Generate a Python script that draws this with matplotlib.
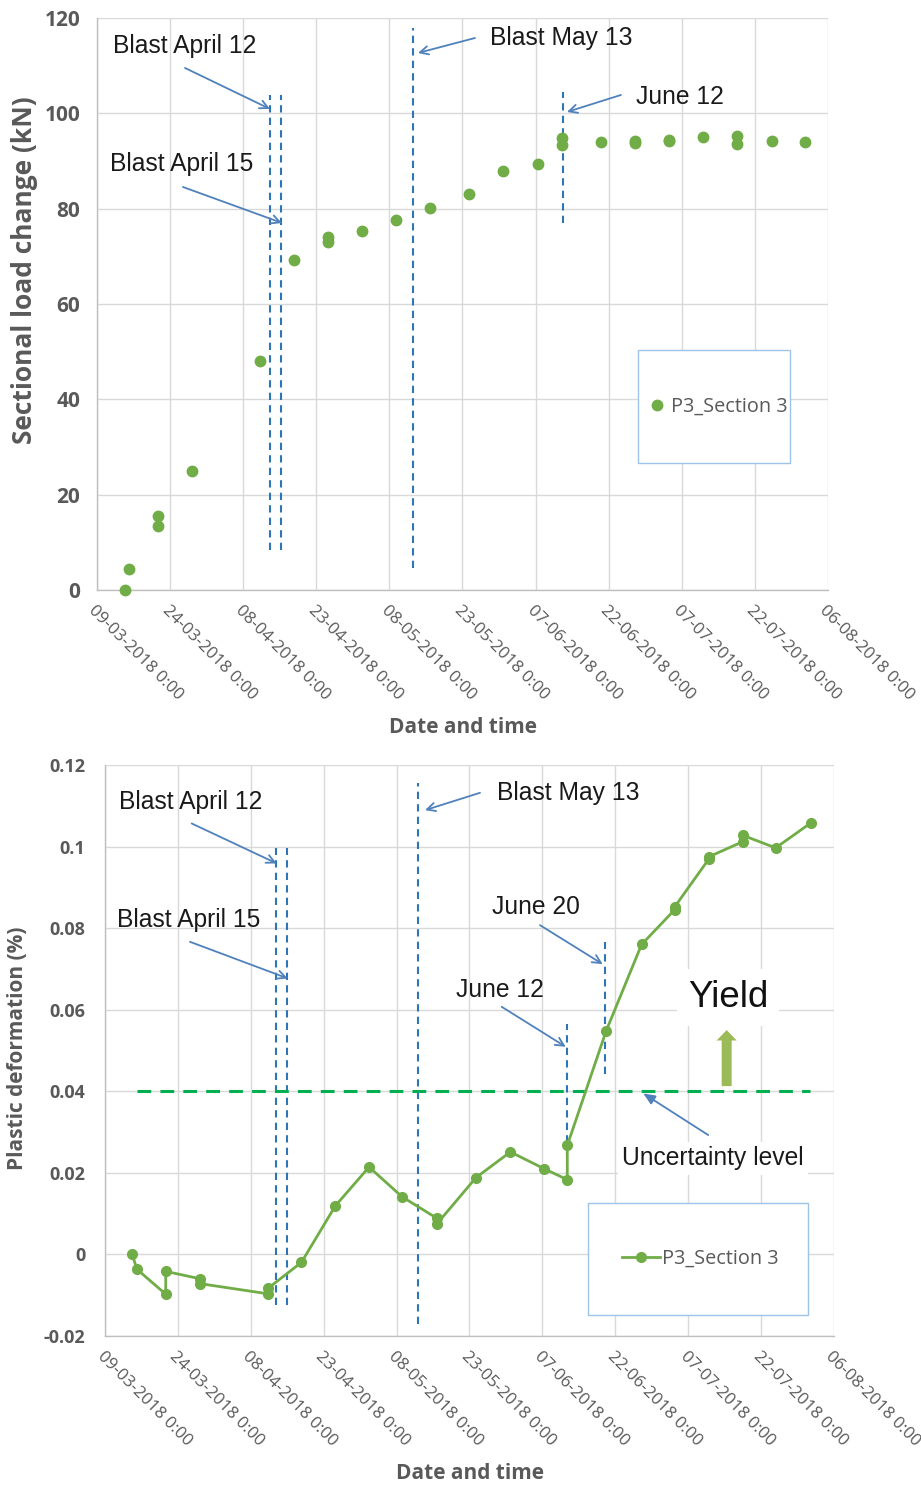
import matplotlib
matplotlib.use("Agg")
import matplotlib.pyplot as plt
from matplotlib.patches import Rectangle
from matplotlib.transforms import ScaledTranslation
import pandas as pd

# ---------------- data ----------------
load_dates = ["2018-03-14 18:00", "2018-03-15 14:00", "2018-03-21 12:00", "2018-03-21 12:00",
              "2018-03-28 14:00", "2018-04-11 12:00", "2018-04-18 10:00", "2018-04-25 12:00",
              "2018-04-25 12:00", "2018-05-02 10:00", "2018-05-09 10:00", "2018-05-16 10:00",
              "2018-05-24 08:00", "2018-05-31 10:00", "2018-06-07 10:00", "2018-06-12 10:00",
              "2018-06-12 10:00", "2018-06-20 10:00", "2018-06-27 10:00", "2018-06-27 10:00",
              "2018-07-04 10:00", "2018-07-04 10:00", "2018-07-11 10:00", "2018-07-18 10:00",
              "2018-07-18 10:00", "2018-07-25 10:00", "2018-08-01 06:00"]
load_values = [0.0, 4.3, 15.5, 13.4, 24.9, 48.1, 69.3, 73.0, 74.0, 75.4, 77.6, 80.2,
               83.1, 87.9, 89.3, 94.8, 93.4, 94.0, 94.2, 93.7, 94.4, 94.1, 95.1, 95.3,
               93.6, 94.2, 94.0]

deform_dates = ["2018-03-14 14:00", "2018-03-15 14:00", "2018-03-21 12:00", "2018-03-21 12:00",
                "2018-03-28 12:00", "2018-03-28 12:00", "2018-04-11 12:00", "2018-04-11 12:00",
                "2018-04-18 10:00", "2018-04-25 10:00", "2018-05-02 08:00", "2018-05-09 03:00",
                "2018-05-16 08:00", "2018-05-16 08:00", "2018-05-24 08:00", "2018-05-31 10:00",
                "2018-06-07 08:00", "2018-06-12 03:00", "2018-06-12 03:00", "2018-06-20 03:00",
                "2018-06-27 10:00", "2018-07-04 05:00", "2018-07-04 05:00", "2018-07-11 05:00",
                "2018-07-11 05:00", "2018-07-18 05:00", "2018-07-18 05:00", "2018-07-25 00:00",
                "2018-08-01 08:00"]
deform_values = [0.0, -0.0037, -0.0098, -0.0042, -0.0060, -0.0072, -0.0097, -0.0084,
                 -0.0020, 0.0119, 0.0214, 0.0141, 0.0088, 0.0075, 0.0188, 0.0251,
                 0.0210, 0.0183, 0.0267, 0.0548, 0.0760, 0.0845, 0.0852, 0.0969,
                 0.0975, 0.1012, 0.1028, 0.0997, 0.1059]

tick_dates = ["2018-03-09", "2018-03-24", "2018-04-08", "2018-04-23", "2018-05-08", "2018-05-23",
              "2018-06-07", "2018-06-22", "2018-07-07", "2018-07-22", "2018-08-06"]
tick_labels = ["09-03-2018 0:00", "24-03-2018 0:00", "08-04-2018 0:00", "23-04-2018 0:00",
               "08-05-2018 0:00", "23-05-2018 0:00", "07-06-2018 0:00", "22-06-2018 0:00",
               "07-07-2018 0:00", "22-07-2018 0:00", "06-08-2018 0:00"]
load_yticks = [0, 20, 40, 60, 80, 100, 120]
load_yticklabels = ["0", "20", "40", "60", "80", "100", "120"]
deform_yticks = [-0.02, 0, 0.02, 0.04, 0.06, 0.08, 0.1, 0.12]
deform_yticklabels = ["-0.02", "0", "0.02", "0.04", "0.06", "0.08", "0.1", "0.12"]

series_label = "P3_Section 3"

top_event_dates = ["2018-04-13 12:00", "2018-04-15 19:00", "2018-05-12 19:00", "2018-06-12 14:00"]
top_event_low = [8.4, 8.4, 4.6, 77.0]
top_event_high = [103.9, 103.9, 118.0, 104.5]

bot_event_dates = ["2018-04-13 05:00", "2018-04-15 12:00", "2018-05-12 12:00",
                   "2018-06-12 02:00", "2018-06-19 19:00"]
bot_event_low = [-0.0125, -0.0125, -0.017, 0.0243, 0.0442]
bot_event_high = [0.0996, 0.0996, 0.1155, 0.0566, 0.0766]

uncertainty_level = 0.04
uncertainty_span = ["2018-03-15 12:00", "2018-08-01 00:00"]

# ---------------- style ----------------
GREEN = "#70AD47"
BLUE = "#2E75B6"
ARROW = "#4F81BD"
GRID = "#D9D9D9"
TXT = "#595959"
ANN_FONT = "Liberation Sans"
UI_FONT = "Open Sans"

x_min = pd.Timestamp("2018-03-09")
x_max = pd.Timestamp("2018-08-06")

fig = plt.figure(figsize=(9.21, 14.86), dpi=100)
ax1 = fig.add_axes([0.1053, 0.6030, 0.7937, 0.3849])
ax2 = fig.add_axes([0.1140, 0.1011, 0.7915, 0.3840])


def style_axes(ax, yticks, yticklabels, ysize, ypad):
    ax.set_xlim(x_min, x_max)
    ax.set_xticks([pd.Timestamp(t) for t in tick_dates])
    ax.set_xticklabels(tick_labels, rotation=-45, ha="left", va="top",
                       rotation_mode="anchor", fontsize=12.2, color=TXT, family=UI_FONT)
    off = ScaledTranslation(5 / 72, 0, fig.dpi_scale_trans)
    for lab in ax.get_xticklabels():
        lab.set_transform(lab.get_transform() + off)
    ax.set_yticks(yticks)
    ax.set_yticklabels(yticklabels, fontsize=ysize, color=TXT, family=UI_FONT,
                       fontweight="bold")
    ax.grid(True, color=GRID, lw=1.0, zorder=0)
    ax.set_axisbelow(True)
    for s in ["top", "right"]:
        ax.spines[s].set_visible(False)
    for s in ["left", "bottom"]:
        ax.spines[s].set_color("#BFBFBF")
        ax.spines[s].set_linewidth(1.0)
    ax.tick_params(axis="both", length=0)
    ax.tick_params(axis="y", pad=ypad)
    ax.tick_params(axis="x", pad=9)


def ann(ax, text, txy, tail, tip, fs=17.7, head="->"):
    ax.text(txy[0], txy[1], text, transform=ax.transAxes, ha="center", va="center",
            fontsize=fs, family=ANN_FONT, color="#1a1a1a", zorder=6)
    ax.annotate("", xy=tip, xytext=tail, xycoords="axes fraction",
                textcoords="axes fraction",
                arrowprops=dict(arrowstyle=head + ",head_length=0.6,head_width=0.3",
                                color=ARROW, lw=1.3, shrinkA=0, shrinkB=0), zorder=6)


# ---------------- top chart ----------------
style_axes(ax1, load_yticks, load_yticklabels, 15, 12)
ax1.set_ylim(0, 120)
ax1.plot(pd.to_datetime(load_dates), load_values, "o", color=GREEN, ms=7.5,
         label=series_label, zorder=4, clip_on=False)
for d, lo, hi in zip(top_event_dates, top_event_low, top_event_high):
    ax1.plot([pd.Timestamp(d)] * 2, [lo, hi], color=BLUE, lw=1.5,
             ls=(0, (3.5, 2.5)), zorder=3)

ann(ax1, "Blast April 12", (0.1204, 0.951), (0.1204, 0.9126), (0.2367, 0.8409))
ann(ax1, "Blast April 15", (0.1163, 0.7448), (0.1176, 0.7045), (0.2531, 0.6416))
ann(ax1, "Blast May 13", (0.6354, 0.965), (0.5171, 0.965), (0.4391, 0.9388))
ann(ax1, "June 12", (0.7975, 0.8619), (0.7168, 0.8654), (0.6430, 0.8357))

ax1.add_patch(Rectangle((0.740, 0.222), 0.208, 0.198, transform=ax1.transAxes,
                        fc="white", ec="#9DC3E6", lw=1.0, zorder=5))
leg1 = ax1.legend(loc="center", bbox_to_anchor=(0.851, 0.32), frameon=False,
                  handlelength=0.6, handletextpad=0.4, borderaxespad=0,
                  prop={"family": UI_FONT, "size": 14.3})
leg1.set_zorder(7)
for t in leg1.get_texts():
    t.set_color(TXT)

# ---------------- bottom chart ----------------
style_axes(ax2, deform_yticks, deform_yticklabels, 13, 14)
ax2.set_ylim(-0.02, 0.12)
ax2.plot(pd.to_datetime(deform_dates), deform_values, "-o", color=GREEN, ms=7,
         lw=2.0, label=series_label, zorder=4)
for d, lo, hi in zip(bot_event_dates, bot_event_low, bot_event_high):
    ax2.plot([pd.Timestamp(d)] * 2, [lo, hi], color=BLUE, lw=1.5,
             ls=(0, (3.5, 2.5)), zorder=3)
ax2.plot(pd.to_datetime(uncertainty_span), [uncertainty_level] * 2, color="#00B050",
         lw=2.2, ls=(0, (4.5, 3)), zorder=3)

ann(ax2, "Blast April 12", (0.1173, 0.9357), (0.1189, 0.8978), (0.2355, 0.8278))
ann(ax2, "Blast April 15", (0.1152, 0.7284), (0.1166, 0.6904), (0.2506, 0.6263))
ann(ax2, "Blast May 13", (0.6351, 0.9504), (0.5144, 0.9515), (0.4390, 0.9211))
ann(ax2, "June 20", (0.5916, 0.7517), (0.5967, 0.7196), (0.6827, 0.6513))
ann(ax2, "June 12", (0.5414, 0.6057), (0.5442, 0.5765), (0.6320, 0.5064))

# Uncertainty level label (white box) with filled arrow
ax2.text(0.8344, 0.3108, "Uncertainty level", transform=ax2.transAxes, ha="center",
         va="center", fontsize=17.7, family=ANN_FONT, color="#1a1a1a", zorder=6,
         bbox=dict(fc="white", ec="none", pad=3))
ax2.annotate("", xy=(0.7384, 0.4247), xytext=(0.8276, 0.3517), xycoords="axes fraction",
             textcoords="axes fraction",
             arrowprops=dict(arrowstyle="-|>,head_length=0.7,head_width=0.3",
                             color=ARROW, lw=1.3, shrinkA=0, shrinkB=0), zorder=6)

# Yield label and block arrow
ax2.text(0.8546, 0.5935, "Yield", transform=ax2.transAxes, ha="center", va="center",
         fontsize=26.5, family=ANN_FONT, color="#111111", zorder=6,
         bbox=dict(fc="white", ec="none", pad=8))
ax2.annotate("", xy=(0.8528, 0.5357), xytext=(0.8528, 0.4375), xycoords="axes fraction",
             textcoords="axes fraction",
             arrowprops=dict(arrowstyle="simple,head_length=0.75,head_width=1.45,tail_width=0.72",
                             fc="#9BBB59", ec="none", shrinkA=0, shrinkB=0,
                             mutation_scale=10), zorder=6)

ax2.add_patch(Rectangle((0.6626, 0.0363), 0.3017, 0.1962, transform=ax2.transAxes,
                        fc="white", ec="#9DC3E6", lw=1.0, zorder=5))
leg2 = ax2.legend(loc="center", bbox_to_anchor=(0.817, 0.1344), frameon=False,
                  handlelength=1.9, handletextpad=0.1, borderaxespad=0,
                  prop={"family": UI_FONT, "size": 14.3})
leg2.set_zorder(7)
for t in leg2.get_texts():
    t.set_color(TXT)

# ---------------- axis titles ----------------
fig.text(0.0271, 0.8183, "Sectional load change (kN)", rotation=90, ha="center",
         va="center", fontsize=19, fontweight="bold", color=TXT, family=UI_FONT)
fig.text(0.5027, 0.5101, "Date and time", ha="center", va="center", fontsize=15,
         fontweight="bold", color=TXT, family=UI_FONT)
fig.text(0.0195, 0.2948, "Plastic deformation (%)", rotation=90, ha="center",
         va="center", fontsize=15, fontweight="bold", color=TXT, family=UI_FONT)
fig.text(0.5103, 0.0081, "Date and time", ha="center", va="center", fontsize=15,
         fontweight="bold", color=TXT, family=UI_FONT)

fig.savefig("out.png", dpi=100, facecolor="white")
